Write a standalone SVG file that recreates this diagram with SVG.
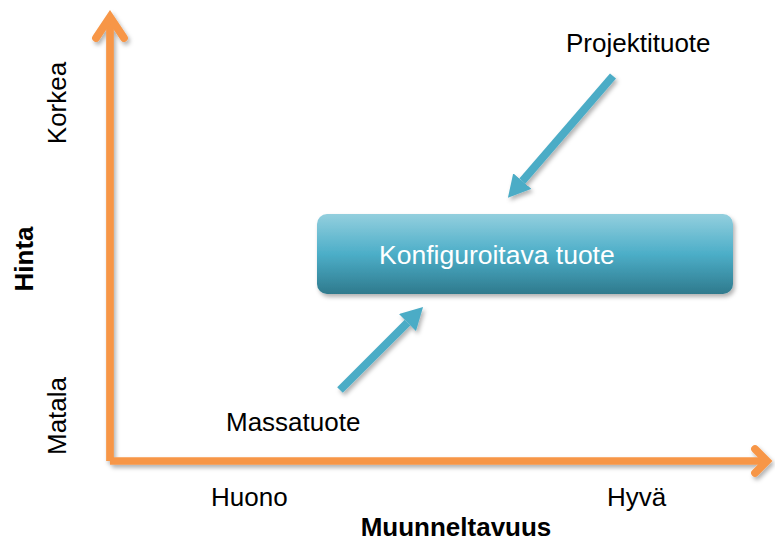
<svg xmlns="http://www.w3.org/2000/svg" width="775" height="541" viewBox="0 0 775 541">
  <defs>
    <style>
      .lbl { font-family: "Liberation Sans", Arial, sans-serif; font-size: 26px; fill: #000000; }
      .bold { font-weight: bold; }
      .box-text { font-family: "Liberation Sans", Arial, sans-serif; font-size: 26.5px; fill: #ffffff; }
      .axis { fill: none; stroke: #f79646; stroke-width: 7.7; }
      .chev { fill: none; stroke: #f79646; stroke-width: 7.7; stroke-linecap: round; stroke-linejoin: miter; }
      .blue { fill: none; stroke: #4bacc6; stroke-width: 8; }
    </style>
    <filter id="shadow" x="-20%" y="-20%" width="140%" height="140%">
      <feDropShadow dx="2" dy="3" stdDeviation="2" flood-color="#000000" flood-opacity="0.3"/>
    </filter>
    <linearGradient id="boxGrad" x1="0" y1="0" x2="0" y2="1">
      <stop offset="0" stop-color="#93cfde"/>
      <stop offset="0.5" stop-color="#4caec8"/>
      <stop offset="1" stop-color="#2f7a8d"/>
    </linearGradient>
    <marker id="blueHead" markerUnits="userSpaceOnUse" markerWidth="22" markerHeight="24" viewBox="0 0 22 24" refX="0" refY="12" orient="auto">
      <path d="M0 0 L22 12 L0 24 Z" fill="#4bacc6"/>
    </marker>
  </defs>

  <g id="connectors" filter="url(#shadow)">
    <g id="axis-y">
      <line class="axis" x1="110" y1="461" x2="110" y2="18"/>
      <path class="chev" d="M96 38 L110 17 L124 38"/>
    </g>
    <g id="axis-x">
      <line class="axis" x1="110" y1="461" x2="766" y2="461"/>
      <path class="chev" d="M755 449 L767 461 L755 473"/>
    </g>
    <line id="arrow-massatuote" class="blue" x1="340" y1="390" x2="407.5" y2="322.6" marker-end="url(#blueHead)"/>
    <line id="arrow-projektituote" class="blue" x1="613" y1="76" x2="522.3" y2="181.1" marker-end="url(#blueHead)"/>
  </g>

  <g id="node-konfiguroitava">
    <rect x="317" y="214" width="416" height="80" rx="10" ry="10" fill="url(#boxGrad)" filter="url(#shadow)"/>
    <text class="box-text" x="379" y="264">Konfiguroitava tuote</text>
  </g>

  <g id="node-projektituote">
    <text class="lbl" x="566" y="52">Projektituote</text>
  </g>

  <g id="node-massatuote">
    <text class="lbl" x="226" y="431">Massatuote</text>
  </g>

  <g id="axis-labels">
    <text class="lbl" x="211" y="506">Huono</text>
    <text class="lbl" x="607" y="506">Hyvä</text>
    <text class="lbl bold" x="456" y="536" text-anchor="middle">Muunneltavuus</text>
    <text class="lbl bold" x="0" y="0" text-anchor="middle" transform="translate(33,259) rotate(-90)">Hinta</text>
    <text class="lbl" x="0" y="0" text-anchor="middle" transform="translate(66,103) rotate(-90)">Korkea</text>
    <text class="lbl" x="0" y="0" text-anchor="middle" transform="translate(66,416) rotate(-90)">Matala</text>
  </g>
</svg>
